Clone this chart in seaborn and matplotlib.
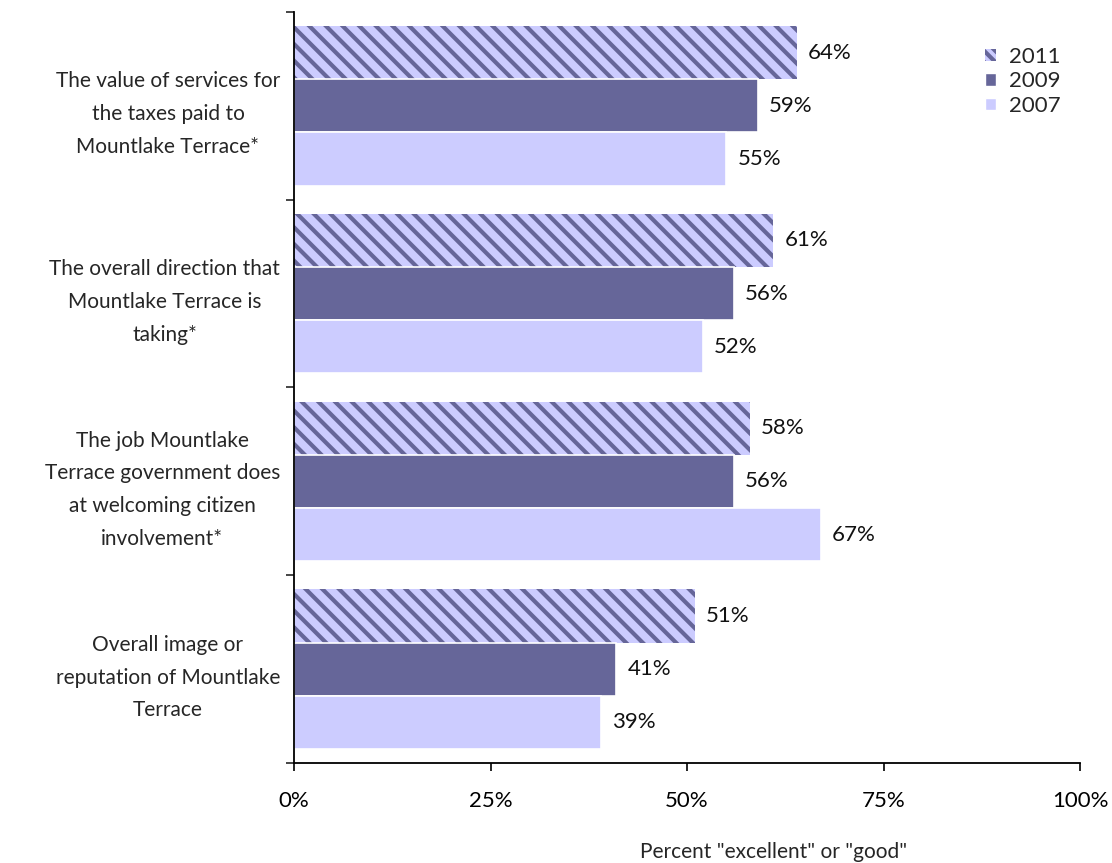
# importing libraries
import pandas as pd
import matplotlib
matplotlib.use("Agg")
import matplotlib.pyplot as plt
from matplotlib.patches import Patch
import seaborn as sns

# chart data
categories = [
    "The value of services for\nthe taxes paid to\nMountlake Terrace*",
    "The overall direction that\nMountlake Terrace is\ntaking*",
    "The job Mountlake\nTerrace government does\nat welcoming citizen\ninvolvement*",
    "Overall image or\nreputation of Mountlake\nTerrace",
]
years = ["2011", "2009", "2007"]
values_2011 = [64, 61, 58, 51]
values_2009 = [59, 56, 56, 41]
values_2007 = [55, 52, 67, 39]
x_ticks = [0, 25, 50, 75, 100]
x_tick_labels = ["0%", "25%", "50%", "75%", "100%"]

LIGHT = "#CCCCFF"
DARK = "#666699"

# long-form table for seaborn
rows = []
for year, vals in zip(years, [values_2011, values_2009, values_2007]):
    for cat, v in zip(categories, vals):
        rows.append({"category": cat, "year": year, "value": v})
df = pd.DataFrame(rows)

sns.set_style("white")
plt.rcParams["font.family"] = ["Lato", "DejaVu Sans"]
plt.rcParams["hatch.linewidth"] = 3.0

fig = plt.figure(figsize=(11.12, 8.63), dpi=100)
ax = fig.add_axes([294 / 1112, 1 - 763 / 863, 786 / 1112, 751 / 863])

sns.barplot(data=df, y="category", x="value", hue="year", order=categories,
            hue_order=years, palette=[LIGHT, DARK, LIGHT], saturation=1,
            orient="h", width=0.85, edgecolor="white", linewidth=1.2, ax=ax,
            legend=False)

# hatch the 2011 bars
for p in ax.containers[0]:
    p.set_facecolor(LIGHT)
    p.set_edgecolor(DARK)
    p.set_linewidth(0)
    p.set_hatch("\\\\")

# value labels
for cont in ax.containers:
    ax.bar_label(cont, labels=[f"{v:.0f}%" for v in cont.datavalues],
                 padding=8, fontsize=16, color="#111111")

# axes
ax.set_xlim(0, 100)
ax.set_ylim(len(categories) - 0.5, -0.5)
ax.set_xticks(x_ticks)
ax.set_xticklabels(x_tick_labels, fontsize=16)
ax.tick_params(axis="x", direction="out", length=6, width=1.2, pad=14,
               colors="black", bottom=True)
ax.set_yticks(range(len(categories)))
ax.set_yticklabels(categories, fontsize=15, multialignment="center",
                   linespacing=1.8)
ax.tick_params(axis="y", which="major", length=0, pad=10)
ax.set_yticks([i - 0.5 for i in range(len(categories) + 1)], minor=True)
ax.tick_params(axis="y", which="minor", direction="out", length=6, width=1.2,
               left=True)

for side in ["top", "right"]:
    ax.spines[side].set_visible(False)
for side in ["left", "bottom"]:
    ax.spines[side].set_color("black")
    ax.spines[side].set_linewidth(1.3)

ax.set_ylabel("")
ax.set_xlabel('Percent "excellent" or "good"', fontsize=15)
ax.xaxis.set_label_coords((774 - 294) / 786, -79 / 751)

# legend
handles = [
    Patch(facecolor=LIGHT, edgecolor=DARK, linewidth=0, hatch="\\\\\\"),
    Patch(facecolor=DARK),
    Patch(facecolor=LIGHT),
]
leg = fig.legend(handles=handles, labels=years, loc="upper left",
                 bbox_to_anchor=(965 / 1112, 1 - 27 / 863), frameon=False,
                 fontsize=16, handlelength=0.5, handleheight=0.5,
                 handletextpad=0.6, labelspacing=0.2)

fig.savefig("out.png", dpi=100)
